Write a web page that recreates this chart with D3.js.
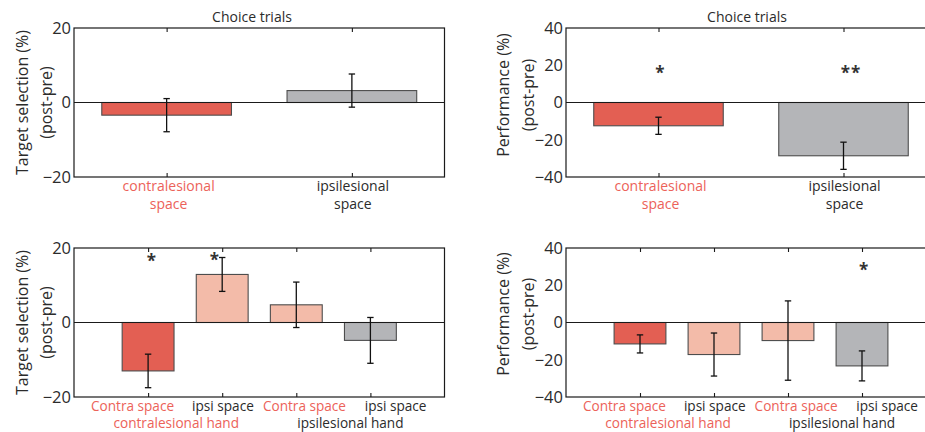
<!DOCTYPE html>
<html>
<head>
<meta charset="utf-8">
<script src="https://cdn.jsdelivr.net/npm/d3@7"></script>
<style>
  html, body { margin: 0; padding: 0; background: #fff; }
  svg { display: block; font-family: "Open Sans", "Noto Sans", sans-serif; }
</style>
</head>
<body>
<svg id="chart" width="925" height="432"></svg>
<script>
// Choice-trial effects (post minus pre), mean and standard error per condition
const spaceCategories = ["contralesional", "ipsilesional"];
const spaceSelectionMean = [-3.4, 3.2];
const spaceSelectionSem = [4.45, 4.45];
const spacePerformanceMean = [-12.5, -28.6];
const spacePerformanceSem = [4.6, 7.3];

const handSpaceCategories = ["Contra space", "ipsi space", "Contra space", "ipsi space"];
const handGroups = ["contralesional hand", "ipsilesional hand"];
const handSelectionMean = [-13.0, 12.9, 4.75, -4.8];
const handSelectionSem = [4.5, 4.55, 6.1, 6.15];
const handPerformanceMean = [-11.5, -17.2, -9.7, -23.3];
const handPerformanceSem = [4.85, 11.55, 21.3, 8.05];

const selectionTicks = [-20, 0, 20];
const performanceTicks = [-40, -20, 0, 20, 40];

// significance marks: [category position, height in axis units, text]
const spacePerformanceStars = [[1.01, 17.2, "*"], [2.04, 17.2, "**"]];
const handSelectionStars = [[1.05, 17.3, "*"], [1.90, 17.5, "*"]];
const handPerformanceStars = [[4.03, 29.7, "*"]];

const RED = "#E35F53", PINK = "#F3BBA9", GREY = "#B4B5B8";
const RED_TEXT = "#EC6259", DARK_TEXT = "#2b2b2b";

const svg = d3.select("#chart");

function panel(opt) {
  const g = svg.append("g");
  const x = d3.scaleLinear().domain(opt.xDomain).range([opt.left, opt.right]);
  const y = d3.scaleLinear().domain(opt.yDomain).range([opt.bottom, opt.top]);
  const n = opt.mean.length;
  const pos = d3.range(1, n + 1);
  const barW = 0.7;

  // bars
  g.selectAll("rect.bar").data(opt.mean).join("rect")
    .attr("class", "bar")
    .attr("x", (d, i) => x(pos[i] - barW / 2))
    .attr("width", x(barW) - x(0))
    .attr("y", d => y(Math.max(0, d)))
    .attr("height", d => Math.abs(y(d) - y(0)))
    .attr("fill", (d, i) => opt.colors[i])
    .attr("stroke", "#4d4d4d")
    .attr("stroke-width", 1.1);

  // zero line
  g.append("line")
    .attr("x1", opt.left).attr("x2", opt.right)
    .attr("y1", y(0)).attr("y2", y(0))
    .attr("stroke", "#1a1a1a").attr("stroke-width", 1.1);

  // error bars
  const eb = g.selectAll("g.err").data(opt.mean).join("g").attr("class", "err")
    .attr("stroke", "#111").attr("stroke-width", 1.3);
  eb.append("line")
    .attr("x1", (d, i) => x(pos[i])).attr("x2", (d, i) => x(pos[i]))
    .attr("y1", (d, i) => y(d + opt.sem[i])).attr("y2", (d, i) => y(d - opt.sem[i]));
  [1, -1].forEach(s => {
    eb.append("line")
      .attr("x1", (d, i) => x(pos[i]) - 3.2).attr("x2", (d, i) => x(pos[i]) + 3.2)
      .attr("y1", (d, i) => y(d + s * opt.sem[i])).attr("y2", (d, i) => y(d + s * opt.sem[i]));
  });

  // frame
  g.append("rect")
    .attr("x", opt.left).attr("y", opt.top)
    .attr("width", opt.right - opt.left).attr("height", opt.bottom - opt.top)
    .attr("fill", "none").attr("stroke", "#1a1a1a").attr("stroke-width", 1.2);

  // y axis labels
  const yAxis = d3.axisLeft(y).tickValues(opt.yTicks).tickSize(0).tickPadding(3)
    .tickFormat(d => d < 0 ? "\u2212" + Math.abs(d) : String(d));
  const ya = g.append("g").attr("transform", `translate(${opt.left},0)`).call(yAxis);
  ya.select(".domain").remove();
  ya.selectAll("text").attr("font-size", 16.5).attr("fill", DARK_TEXT)
    .attr("font-family", "'Open Sans', sans-serif");

  // x tick marks, bottom and top, pointing inward
  const xb = d3.axisBottom(x).tickValues(pos).tickSizeInner(-4).tickSizeOuter(0).tickFormat("");
  const xt = d3.axisTop(x).tickValues(pos).tickSizeInner(-4).tickSizeOuter(0).tickFormat("");
  const gb = g.append("g").attr("transform", `translate(0,${opt.bottom})`).call(xb);
  const gt = g.append("g").attr("transform", `translate(0,${opt.top})`).call(xt);
  [gb, gt].forEach(a => {
    a.select(".domain").remove();
    a.selectAll("line").attr("stroke", "#1a1a1a").attr("stroke-width", 1.1);
  });

  // y title
  opt.yTitle.forEach((t, k) => {
    g.append("text")
      .attr("transform", `translate(${opt.yTitleX[k]},${opt.yTitleY}) rotate(-90)`)
      .attr("text-anchor", "middle").attr("dominant-baseline", "central")
      .attr("font-size", 16).attr("fill", DARK_TEXT).text(t);
  });

  // panel title
  if (opt.title) {
    g.append("text").attr("x", opt.titleX).attr("y", 22)
      .attr("text-anchor", "middle").attr("font-size", 14).attr("fill", DARK_TEXT)
      .text(opt.title);
  }

  // significance stars
  g.selectAll("text.star").data(opt.stars).join("text").attr("class", "star")
    .attr("x", d => x(d[0])).attr("y", d => y(d[1]) + 9)
    .attr("text-anchor", "middle").attr("font-size", 17).attr("font-weight", 700)
    .attr("fill", "#333").attr("letter-spacing", 1).text(d => d[2]);

  opt.labels(g, x);
}

// two-condition category labels, centred under the ticks
function spaceLabels(g, x) {
  spaceCategories.forEach((c, i) => {
    const col = i === 0 ? RED_TEXT : DARK_TEXT;
    const cx = x(i + 1) + (i === 0 ? 2 : 1);
    g.append("text").attr("x", cx).attr("y", 191).attr("text-anchor", "middle")
      .attr("font-size", 14).attr("fill", col).text(c);
    g.append("text").attr("x", cx).attr("y", 209).attr("text-anchor", "middle")
      .attr("font-size", 14).attr("fill", col).text("space");
  });
}

// space labels per bar, hand labels per pair of bars
function handLabels(g, x) {
  const spaceAt = [0.79, 2.01, 3.11, 4.34];
  const handAt = [1.38, 3.73];
  handSpaceCategories.forEach((c, i) => {
    g.append("text").attr("x", x(spaceAt[i])).attr("y", 410.5).attr("text-anchor", "middle")
      .attr("font-size", 13.6).attr("fill", i % 2 === 0 ? RED_TEXT : DARK_TEXT).text(c);
  });
  handGroups.forEach((c, i) => {
    g.append("text").attr("x", x(handAt[i])).attr("y", 428).attr("text-anchor", "middle")
      .attr("font-size", 13.6).attr("fill", i === 0 ? RED_TEXT : DARK_TEXT).text(c);
  });
}

panel({
  left: 74, right: 444.5, top: 28, bottom: 177,
  xDomain: [0.5, 2.5], yDomain: [-20, 20], yTicks: selectionTicks,
  mean: spaceSelectionMean, sem: spaceSelectionSem, colors: [RED, GREY],
  yTitle: ["Target selection (%)", "(post-pre)"], yTitleX: [22, 46], yTitleY: 102.5,
  title: "Choice trials", titleX: 252,
  stars: [], labels: spaceLabels
});

panel({
  left: 566, right: 936, top: 28, bottom: 177,
  xDomain: [0.5, 2.5], yDomain: [-40, 40], yTicks: performanceTicks,
  mean: spacePerformanceMean, sem: spacePerformanceSem, colors: [RED, GREY],
  yTitle: ["Performance (%)", "(post-pre)"], yTitleX: [503, 528], yTitleY: 95,
  title: "Choice trials", titleX: 747,
  stars: spacePerformanceStars, labels: spaceLabels
});

panel({
  left: 74, right: 444.5, top: 248, bottom: 397,
  xDomain: [0, 5], yDomain: [-20, 20], yTicks: selectionTicks,
  mean: handSelectionMean, sem: handSelectionSem, colors: [RED, PINK, PINK, GREY],
  yTitle: ["Target selection (%)", "(post-pre)"], yTitleX: [22, 46], yTitleY: 322.5,
  title: null,
  stars: handSelectionStars, labels: handLabels
});

panel({
  left: 566, right: 936, top: 248, bottom: 397,
  xDomain: [0, 5], yDomain: [-40, 40], yTicks: performanceTicks,
  mean: handPerformanceMean, sem: handPerformanceSem, colors: [RED, PINK, PINK, GREY],
  yTitle: ["Performance (%)", "(post-pre)"], yTitleX: [503, 528], yTitleY: 314,
  title: null,
  stars: handPerformanceStars, labels: handLabels
});
</script>
</body>
</html>
